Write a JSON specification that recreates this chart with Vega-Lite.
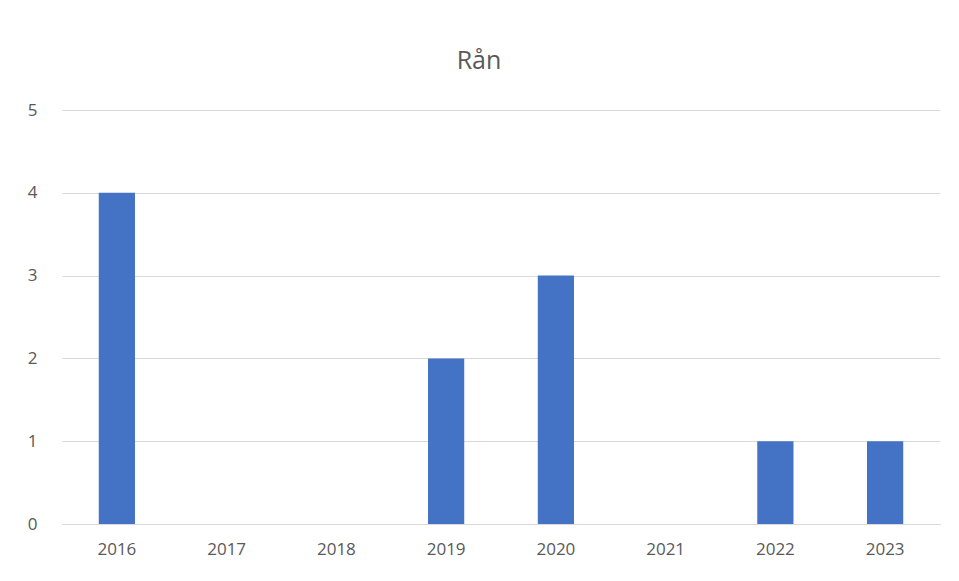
{
  "$schema": "https://vega.github.io/schema/vega-lite/v6.json",
  "autosize": "none",
  "width": 878,
  "height": 414,
  "padding": {"left": 62, "top": 110, "right": 19, "bottom": 57},
  "background": "white",
  "title": {
    "text": "Rån",
    "font": "Open Sans",
    "fontSize": 25,
    "fontWeight": "normal",
    "color": "#595959",
    "anchor": "middle",
    "dx": -22,
    "offset": 27
  },
  "data": {
    "values": [
      {"year": "2016", "value": 4},
      {"year": "2017", "value": 0},
      {"year": "2018", "value": 0},
      {"year": "2019", "value": 2},
      {"year": "2020", "value": 3},
      {"year": "2021", "value": 0},
      {"year": "2022", "value": 1},
      {"year": "2023", "value": 1}
    ]
  },
  "mark": {"type": "bar", "color": "#4472C4"},
  "encoding": {
    "x": {
      "field": "year",
      "type": "ordinal",
      "scale": {"paddingInner": 0.67, "paddingOuter": 0.335},
      "axis": {
        "title": null,
        "labelAngle": 0,
        "labelFont": "Open Sans",
        "labelFontSize": 17,
        "labelColor": "#595959",
        "ticks": false,
        "domainColor": "#d9d9d9",
        "labelPadding": 17
      }
    },
    "y": {
      "field": "value",
      "type": "quantitative",
      "scale": {"domain": [0, 5], "nice": false},
      "axis": {
        "title": null,
        "values": [0, 1, 2, 3, 4, 5],
        "labelOverlap": false,
        "labelFont": "Open Sans",
        "labelFontSize": 17,
        "labelColor": "#595959",
        "ticks": false,
        "domain": false,
        "gridColor": "#d9d9d9",
        "labelPadding": 25
      }
    }
  },
  "config": {"view": {"stroke": null}}
}
